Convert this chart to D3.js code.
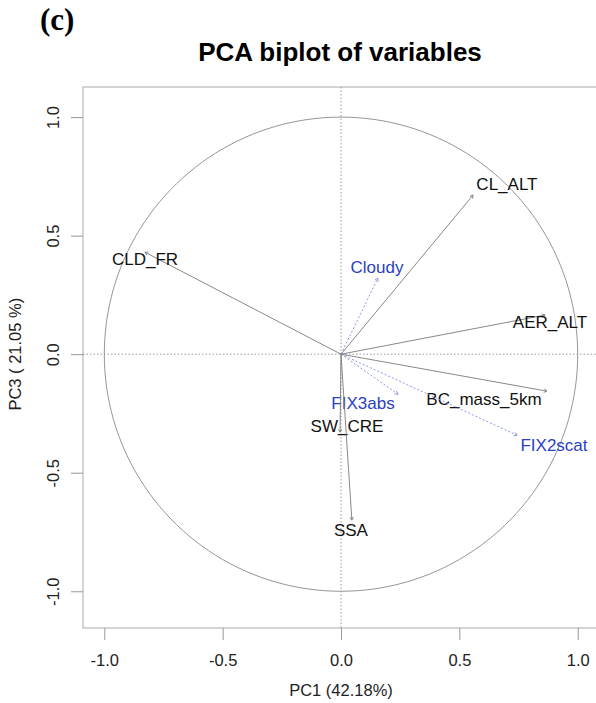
<!DOCTYPE html>
<html>
<head>
<meta charset="utf-8">
<script src="https://cdn.jsdelivr.net/npm/d3@7"></script>
<style>
    body { margin: 0; background: #fff; }
    svg { display: block; font-family: "Liberation Sans", Arial, sans-serif; }
</style>
</head>
<body>
<svg width="596" height="703"></svg>
<script>
    // variaveis do PCA (coordenadas PC1 / PC3)
    var variaveis = ["CLD_FR", "CL_ALT", "Cloudy", "AER_ALT", "BC_mass_5km", "FIX2scat", "FIX3abs", "SW_CRE", "SSA"];
    var pc1 = [-0.828, 0.558, 0.156, 0.862, 0.870, 0.744, 0.241, -0.004, 0.046];
    var pc3 = [0.430, 0.671, 0.321, 0.165, -0.156, -0.342, -0.169, -0.329, -0.700];
    var suplementar = [false, false, true, false, false, true, true, false, false];
    // onde o rotulo ficou (unidades dos eixos)
    var rotuloX = [-0.828, 0.701, 0.152, 0.883, 0.604, 0.900, 0.093, 0.025, 0.042];
    var rotuloY = [0.401, 0.717, 0.367, 0.135, -0.190, -0.384, -0.207, -0.304, -0.743];
    var ticks = [-1.0, -0.5, 0.0, 0.5, 1.0];

    var svg = d3.select("svg");

    var x = d3.scaleLinear().domain([-1.09, 1.09]).range([83, 599]);
    var y = d3.scaleLinear().domain([-1.155, 1.127]).range([628, 87]);

    var cinza = "#b8b8b8";

    // caixa
    svg.append("rect")
        .attr("x", x(-1.09)).attr("y", y(1.127))
        .attr("width", x(1.09) - x(-1.09)).attr("height", y(-1.155) - y(1.127))
        .attr("fill", "none").attr("stroke", cinza).attr("stroke-width", 1.2);

    // eixos
    var eixoX = svg.append("g")
        .attr("transform", "translate(0," + y(-1.155) + ")")
        .call(d3.axisBottom(x).tickValues(ticks).tickSize(12).tickPadding(14)
            .tickFormat(function (d) { return d.toFixed(1); }));
    var eixoY = svg.append("g")
        .attr("transform", "translate(" + x(-1.09) + ",0)")
        .call(d3.axisLeft(y).tickValues(ticks).tickSize(12).tickPadding(0)
            .tickFormat(function (d) { return d.toFixed(1); }));

    [eixoX, eixoY].forEach(function (g) {
        g.select(".domain").remove();
        g.selectAll(".tick line").attr("stroke", "#999");
        g.selectAll(".tick text").attr("fill", "#222").style("font-size", "16.5px")
            .style("font-family", "'Liberation Sans', Arial, sans-serif");
    });
    eixoY.selectAll(".tick text")
        .attr("x", null).attr("dy", null)
        .attr("text-anchor", "middle")
        .attr("transform", "translate(-30,0) rotate(-90)")
        .attr("dy", "0.35em");

    // titulos
    svg.append("text").attr("x", 40).attr("y", 30)
        .style("font-family", "'Liberation Serif', 'Times New Roman', serif")
        .style("font-weight", "bold").style("font-size", "31px")
        .text("(c)");
    svg.append("text").attr("x", 340).attr("y", 61).attr("text-anchor", "middle")
        .style("font-weight", "bold").style("font-size", "26px")
        .text("PCA biplot of variables");
    svg.append("text").attr("x", x(0)).attr("y", 696).attr("text-anchor", "middle")
        .attr("fill", "#222").style("font-size", "16.5px")
        .text("PC1 (42.18%)");
    svg.append("text").attr("transform", "translate(21," + y(0) + ") rotate(-90)")
        .attr("text-anchor", "middle").attr("fill", "#222").style("font-size", "16.5px")
        .text("PC3 ( 21.05 %)");

    // linhas pontilhadas pela origem
    svg.append("line")
        .attr("x1", x(-1.09)).attr("x2", x(1.09)).attr("y1", y(0)).attr("y2", y(0))
        .attr("stroke", "#999").attr("stroke-dasharray", "1.5,2");
    svg.append("line")
        .attr("x1", x(0)).attr("x2", x(0)).attr("y1", y(1.127)).attr("y2", y(-1.155))
        .attr("stroke", "#999").attr("stroke-dasharray", "1.5,2");

    // circulo de correlacao
    var angulos = d3.range(0, 361, 2).map(function (a) { return a * Math.PI / 180; });
    svg.append("path")
        .datum(angulos)
        .attr("d", d3.line()
            .x(function (a) { return x(Math.cos(a)); })
            .y(function (a) { return y(Math.sin(a)); }))
        .attr("fill", "none").attr("stroke", "#8a8a8a").attr("stroke-width", 0.9);

    var dados = variaveis.map(function (v, i) {
        return { nome: v, px: pc1[i], py: pc3[i], sup: suplementar[i], lx: rotuloX[i], ly: rotuloY[i] };
    });

    var seta = svg.append("g").selectAll("g").data(dados).enter().append("g");

    seta.append("line")
        .attr("x1", x(0)).attr("y1", y(0))
        .attr("x2", function (d) { return x(d.px); })
        .attr("y2", function (d) { return y(d.py); })
        .attr("stroke", function (d) { return d.sup ? "#7f8de0" : "#7a7a7a"; })
        .attr("stroke-width", 0.9)
        .attr("stroke-dasharray", function (d) { return d.sup ? "2,2" : null; });

    // ponta da seta (bem pequena, como no R)
    seta.append("path")
        .attr("d", function (d) {
            var x2 = x(d.px), y2 = y(d.py);
            var ang = Math.atan2(y2 - y(0), x2 - x(0));
            var L = 3.5, a = Math.PI / 6;
            return "M" + (x2 - L * Math.cos(ang - a)) + "," + (y2 - L * Math.sin(ang - a)) +
                "L" + x2 + "," + y2 +
                "L" + (x2 - L * Math.cos(ang + a)) + "," + (y2 - L * Math.sin(ang + a));
        })
        .attr("fill", "none")
        .attr("stroke", function (d) { return d.sup ? "#7f8de0" : "#7a7a7a"; })
        .attr("stroke-width", 0.9);

    seta.append("text")
        .attr("x", function (d) { return x(d.lx); })
        .attr("y", function (d) { return y(d.ly); })
        .attr("dy", "0.35em")
        .attr("text-anchor", "middle")
        .attr("fill", function (d) { return d.sup ? "#2b3fc4" : "#111"; })
        .style("font-size", "17px")
        .text(function (d) { return d.nome; });
</script>
</body>
</html>
